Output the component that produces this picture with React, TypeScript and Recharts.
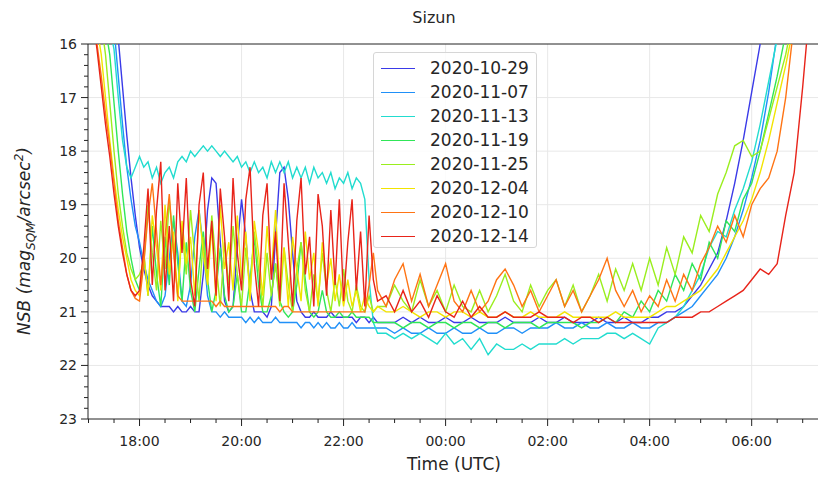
import { LineChart, Line, XAxis, YAxis, ReferenceLine } from 'recharts';

// sample times (UTC): 5 min steps in the evening, 10 min steps afterwards
const eveningTimes = [
  '17:00', '17:05', '17:10', '17:15', '17:20', '17:25', '17:30', '17:35', '17:40', '17:45', '17:50', '17:55',
  '18:00', '18:05', '18:10', '18:15', '18:20', '18:25', '18:30', '18:35', '18:40', '18:45', '18:50', '18:55',
  '19:00', '19:05', '19:10', '19:15', '19:20', '19:25', '19:30', '19:35', '19:40', '19:45', '19:50', '19:55',
  '20:00', '20:05', '20:10', '20:15', '20:20', '20:25', '20:30', '20:35', '20:40', '20:45', '20:50', '20:55',
  '21:00', '21:05', '21:10', '21:15', '21:20', '21:25', '21:30', '21:35', '21:40', '21:45', '21:50', '21:55',
  '22:00', '22:05', '22:10', '22:15', '22:20', '22:25', '22:30', '22:35', '22:40',
];
const nightTimes = [
  '22:50',
  '23:00', '23:10', '23:20', '23:30', '23:40', '23:50',
  '00:00', '00:10', '00:20', '00:30', '00:40', '00:50',
  '01:00', '01:10', '01:20', '01:30', '01:40', '01:50',
  '02:00', '02:10', '02:20', '02:30', '02:40', '02:50',
  '03:00', '03:10', '03:20', '03:30', '03:40', '03:50',
  '04:00', '04:10', '04:20', '04:30', '04:40', '04:50',
  '05:00', '05:10', '05:20', '05:30', '05:40', '05:50',
  '06:00', '06:10', '06:20', '06:30', '06:40', '06:50',
  '07:00', '07:10',
];
const times = [...eveningTimes, ...nightTimes];

const dates = ['2020-10-29', '2020-11-07', '2020-11-13', '2020-11-19', '2020-11-25', '2020-12-04', '2020-12-10', '2020-12-14'];
const colors = ['#3a3ae8', '#2090f8', '#22dccf', '#30e658', '#9aee1e', '#f2e400', '#ff7414', '#e8241a'];

// NSB values (mag/arcsec^2), evening part then night part
const nsb1029 = [
  13.0, 13.4, 13.8, 14.2, 14.6, 15.0, 15.4, 15.9, 16.8, 17.7, 18.5, 19.2, 19.8,
  20.2, 20.5, 20.7, 20.8, 20.9, 20.9, 20.9, 21.0, 20.9, 21.0, 21.0, 20.9, 21.0, 21.0,
  20.3, 19.1, 18.5, 18.6, 19.7, 20.8, 21.0,
  20.9, 19.8, 18.9, 19.6, 20.6, 21.0, 21.0, 21.0, 21.1,
  20.9, 19.6, 18.4, 18.3, 18.9, 19.9, 20.8, 21.0,
  21.1, 21.1, 21.0, 21.1, 21.1, 21.1, 21.0, 21.1, 21.1, 21.1, 21.1, 21.1, 21.2, 21.1, 21.1, 21.2, 21.1, 21.2,
  21.2, 21.2, 21.1, 21.2, 21.1, 21.2, 21.2, 21.1, 21.2, 21.2,
  21.1, 21.2, 21.2, 21.2, 21.1, 21.2, 21.2, 21.2, 21.1, 21.2,
  21.2, 21.1, 21.2, 21.2, 21.2, 21.1, 21.2, 21.2, 21.1, 21.2,
  21.2, 21.1, 21.1, 21.0, 21.0, 20.9, 20.7, 20.5, 20.2, 19.9,
  19.3, 18.6, 17.8, 16.9, 16.0, 15.1, 14.3, 13.6, 13.0, 12.5, 12.0,
];
const nsb1107 = [
  13.2, 13.6, 14.0, 14.4, 14.8, 15.3, 15.7, 16.6, 17.5, 18.3, 18.9, 19.4, 19.7,
  20.1, 20.4, 20.6, 20.8, 20.9, 20.7,
  20.0, 19.3, 19.9, 20.8, 20.9, 20.5, 19.6, 19.1, 19.8, 20.7,
  21.0, 21.0, 21.1, 21.0, 21.1, 21.1, 21.1, 21.1, 21.2, 21.1,
  21.2, 21.1, 21.2, 21.2, 21.2, 21.1, 21.2, 21.2, 21.2, 21.2,
  21.2, 21.3, 21.2, 21.2, 21.3, 21.2, 21.3, 21.2, 21.3, 21.3,
  21.2, 21.3, 21.3, 21.2, 21.3, 21.3, 21.3, 21.3, 21.3, 21.3,
  21.3, 21.4, 21.3, 21.4, 21.4, 21.3, 21.4, 21.4, 21.3, 21.4,
  21.4, 21.3, 21.4, 21.4, 21.3, 21.3, 21.4, 21.3, 21.3, 21.3,
  21.2, 21.3, 21.3, 21.2, 21.3, 21.3, 21.2, 21.3, 21.3, 21.2,
  21.3, 21.3, 21.2, 21.2, 21.1, 21.0, 20.9, 20.7, 20.5, 20.3,
  20.0, 19.6, 19.1, 18.5, 17.8, 16.9, 15.8, 14.8, 14.0, 13.3, 12.8,
];
const nsb1113 = [
  13.5, 13.9, 14.3, 14.8, 15.2, 15.7, 16.1, 17.0, 17.8, 18.3, 18.5, 18.3,
  18.1, 18.3, 18.2, 18.5, 18.3, 18.6, 18.4, 18.3, 18.5, 18.2, 18.1, 18.2,
  18.0, 18.1, 18.0, 17.9, 18.0, 17.9, 18.0, 18.1, 18.0, 18.1, 18.2, 18.1,
  18.3, 18.2, 18.4, 18.2, 18.4, 18.3, 18.5, 18.2, 18.4, 18.2, 18.4, 18.2,
  18.5, 18.3, 18.5, 18.3, 18.6, 18.3, 18.5, 18.4, 18.6, 18.4, 18.7, 18.5,
  18.6, 18.4, 18.7, 18.5, 18.6, 18.9, 20.4, 21.2, 21.4,
  21.4, 21.5, 21.4, 21.5, 21.4, 21.5, 21.6, 21.4, 21.6, 21.5,
  21.7, 21.5, 21.8, 21.6, 21.7, 21.7, 21.6, 21.7, 21.6, 21.6,
  21.6, 21.5, 21.6, 21.5, 21.5, 21.5, 21.4, 21.4, 21.5, 21.4,
  21.5, 21.6, 21.3, 21.2, 21.1, 20.9, 20.6, 20.3, 19.8, 19.5,
  19.6, 19.1, 18.7, 18.2, 17.5, 16.7, 15.9, 15.0, 14.2, 13.5, 13.0,
];
const nsb1119 = [
  13.8, 14.3, 14.8, 15.3, 15.7, 16.2, 17.1, 18.0, 18.8, 19.5, 20.0, 20.4, 20.6,
  19.9, 20.7, 19.4, 20.3, 20.9, 19.6, 20.5, 19.2, 20.1, 20.8, 19.7, 20.6,
  21.0, 20.2, 19.5, 20.4, 21.0, 20.6, 19.8, 20.7, 21.0, 20.9, 20.3, 21.0,
  21.0, 20.4, 19.6, 20.5, 21.0, 21.0, 20.7, 20.1, 20.8, 21.0, 21.1, 21.0,
  20.5, 19.7, 20.4, 21.0, 21.1, 21.0, 20.6, 21.0, 21.1, 21.1, 21.0, 21.1,
  21.1, 21.0, 21.1, 21.1, 21.1, 21.1, 21.2, 21.2,
  21.2, 21.2, 21.3, 21.2, 21.2, 21.3, 21.2, 21.2, 21.3, 21.2,
  21.2, 21.3, 21.2, 21.2, 21.3, 21.2, 21.2, 21.2, 21.3, 21.2,
  21.2, 21.2, 21.2, 21.3, 21.2, 21.2, 21.1, 21.2, 21.0, 21.1,
  20.8, 21.0, 20.6, 20.8, 20.3, 20.6, 20.1, 20.4, 19.7, 20.0,
  19.3, 19.5, 18.9, 18.6, 18.0, 17.3, 16.6, 15.8, 15.0, 14.3, 13.7,
];
const nsb1125 = [
  14.2, 14.7, 15.2, 15.6, 16.2, 17.1, 18.0, 18.8, 19.4, 19.9, 20.2, 20.4, 20.3,
  20.1, 19.0, 19.9, 20.6, 19.3, 20.2, 18.9, 19.8, 20.7, 19.5, 20.3, 19.1,
  20.0, 20.8, 19.6, 20.4, 19.2, 20.1, 20.9, 19.7, 20.5, 19.4, 20.3, 20.9,
  19.8, 20.6, 19.5, 20.2, 20.9, 19.9, 20.7, 20.1, 20.9, 19.8, 20.5, 21.0,
  20.2, 19.7, 20.6, 21.0, 20.3, 20.8, 19.9, 20.6, 21.0, 20.4, 20.9, 20.2,
  20.8, 21.0, 20.5, 20.9, 21.0, 20.7, 21.0, 20.9,
  20.9, 20.5, 20.8, 21.0, 20.4, 20.9, 20.6, 21.0, 20.5, 20.9,
  21.0, 20.6, 21.0, 20.7, 20.3, 20.8, 21.0, 20.5, 20.9, 20.6,
  20.4, 20.9, 20.5, 21.0, 20.7, 20.3, 20.8, 20.2, 20.6, 20.1,
  20.6, 20.0, 20.5, 19.8, 20.3, 19.6, 19.9, 19.2, 19.5, 18.8,
  18.4, 17.9, 17.8, 18.1, 18.0, 17.4, 16.8, 16.2, 15.4, 14.6, 14.0,
];
const nsb1204 = [
  14.6, 15.2, 15.7, 16.2, 17.0, 17.8, 18.5, 19.1, 19.6, 20.0, 20.4, 20.6, 20.7,
  19.9, 20.7, 19.2, 19.8, 20.6, 19.0, 20.3, 19.5, 20.8, 19.3, 20.1, 19.6,
  20.7, 19.1, 19.9, 20.5, 19.4, 20.8, 19.0, 20.2, 19.7, 20.6, 19.2, 20.4,
  19.5, 20.8, 19.3, 19.9, 20.7, 19.4, 20.3, 19.1, 20.6, 19.8, 20.9, 19.6,
  20.2, 20.8, 19.5, 20.4, 19.9, 20.9, 19.7, 20.5, 20.0, 20.8, 20.3, 20.9,
  20.4, 20.9, 20.6, 21.0, 20.7, 20.9, 21.0, 20.9,
  21.0, 21.0, 20.9, 21.0, 21.1, 21.0, 21.0, 21.1, 21.0, 21.0,
  21.1, 21.0, 21.1, 21.1, 21.0, 21.1, 21.1, 21.0, 21.1, 21.1,
  21.1, 21.0, 21.1, 21.1, 21.1, 21.1, 21.1, 21.0, 21.1, 21.1,
  21.1, 21.1, 21.0, 20.9, 20.9, 20.8, 20.7, 20.6, 20.4, 20.2,
  19.9, 19.6, 19.3, 18.9, 18.4, 17.8, 17.1, 16.4, 15.6, 14.8, 14.2,
];
const nsb1210 = [
  14.8, 15.4, 16.0, 16.6, 17.3, 17.9, 18.6, 19.3, 19.8, 20.3, 20.6, 20.75, 20.8,
  20.1, 19.2, 18.6, 19.5, 20.5, 19.6, 18.8, 19.9, 20.7, 20.8,
  20.8, 20.8, 20.8, 20.8, 20.8, 20.8, 20.8, 20.9, 20.8, 20.9, 20.9, 20.9,
  20.9, 20.9, 20.9, 20.9, 20.9, 20.9, 20.9, 20.9, 20.9, 20.9, 21.0, 20.9,
  20.9, 21.0, 21.0, 21.0, 21.0, 21.0, 21.0, 21.0, 21.0, 21.0, 21.0, 21.0,
  21.0, 21.0, 21.0, 21.0, 21.0, 21.0, 21.0, 20.5, 19.9,
  20.6, 20.9, 20.4, 20.1, 20.8, 20.3, 20.9, 20.5, 20.1, 20.8,
  21.0, 20.6, 21.0, 20.8, 20.4, 20.2, 20.5, 20.9, 20.6, 21.0,
  20.7, 20.4, 20.9, 20.6, 21.0, 20.7, 20.4, 20.0, 20.6, 20.9,
  20.6, 21.0, 20.7, 20.9, 20.4, 20.8, 20.3, 20.6, 20.1, 19.8,
  19.4, 19.7, 19.2, 19.6, 19.0, 18.7, 18.5, 18.0, 17.0, 15.6, 14.5,
];
const nsb1214 = [
  14.9, 15.5, 16.1, 16.8, 17.5, 18.1, 18.8, 19.4, 19.9, 20.3, 20.6, 20.7, 20.6,
  19.8, 18.7, 20.5, 19.1, 18.2, 20.6, 19.4, 20.8, 18.6, 19.9, 18.5, 20.4,
  20.9, 19.0, 18.4, 20.2, 19.3, 20.7, 18.7, 19.6, 20.8, 18.5, 19.9, 20.6,
  18.9, 18.3, 20.1, 20.9, 19.2, 18.6, 20.4, 19.5, 20.8, 18.6, 19.7, 20.9,
  19.3, 18.5, 20.3, 19.6, 20.9, 18.8, 19.4, 20.7, 19.1, 20.5, 18.9, 20.8,
  19.7, 18.9, 20.6, 19.5, 20.9, 19.2, 20.4, 20.8,
  20.7, 21.0, 20.6, 21.0, 20.8, 21.1, 20.7, 21.0, 21.1, 20.8,
  21.1, 20.9, 21.1, 21.1, 21.0, 21.1, 21.1, 21.1, 21.0, 21.1,
  21.1, 21.1, 21.2, 21.1, 21.1, 21.2, 21.1, 21.2, 21.2, 21.2,
  21.2, 21.2, 21.2, 21.2, 21.1, 21.1, 21.1, 21.0, 21.0, 20.9,
  20.8, 20.7, 20.6, 20.4, 20.2, 20.3, 20.1, 19.2, 18.4, 16.8, 15.0,
];
const seriesValues = [nsb1029, nsb1107, nsb1113, nsb1119, nsb1125, nsb1204, nsb1210, nsb1214];

const yTicks = [
  16, 16.2, 16.4, 16.6, 16.8, 17, 17.2, 17.4, 17.6, 17.8, 18, 18.2, 18.4, 18.6, 18.8,
  19, 19.2, 19.4, 19.6, 19.8, 20, 20.2, 20.4, 20.6, 20.8, 21, 21.2, 21.4, 21.6, 21.8,
  22, 22.2, 22.4, 22.6, 22.8, 23,
];
const yGrid = [17, 18, 19, 20, 21, 22];
const xTicks = [
  17, 17.5, 18, 18.5, 19, 19.5, 20, 20.5, 21, 21.5, 22, 22.5, 23, 23.5, 24, 24.5,
  25, 25.5, 26, 26.5, 27, 27.5, 28, 28.5, 29, 29.5, 30, 30.5, 31,
];
const xMajorTicks = [18, 20, 22, 24, 26, 28, 30];
const xMajorLabels = ['18:00', '20:00', '22:00', '00:00', '02:00', '04:00', '06:00'];

const toHours = (s: string) => {
  const [h, m] = s.split(':').map(Number);
  return (h < 12 ? h + 24 : h) + m / 60;
};

const data = times.map((t, i) => {
  const row: Record<string, number> = { t: toHours(t) };
  dates.forEach((d, k) => {
    row[d] = seriesValues[k][i];
  });
  return row;
});

const FONT = '"DejaVu Sans", sans-serif';
const INK = '#262626';

const YTick = (props: any) => {
  const { x, y, payload } = props;
  const v = payload.value;
  const major = Math.abs(v - Math.round(v)) < 1e-6;
  const len = major ? 7 : 4;
  return (
    <g>
      <line x1={x - len} x2={x} y1={y} y2={y} stroke="#222" strokeWidth={1} />
      {major && (
        <text x={x - 11} y={y + 5} textAnchor="end" fontSize={14} fill={INK} fontFamily={FONT}>
          {v}
        </text>
      )}
    </g>
  );
};

const XTick = (props: any) => {
  const { x, y, payload } = props;
  const idx = xMajorTicks.indexOf(payload.value);
  const len = idx >= 0 ? 7 : 4;
  return (
    <g>
      <line x1={x} x2={x} y1={y} y2={y + len} stroke="#222" strokeWidth={1} />
      {idx >= 0 && (
        <text x={x} y={y + 27} textAnchor="middle" fontSize={14} fill={INK} fontFamily={FONT}>
          {xMajorLabels[idx]}
        </text>
      )}
    </g>
  );
};

export default function App() {
  return (
    <div style={{ position: 'absolute', left: 0, top: 0, width: 818, height: 480, background: '#fff', fontFamily: FONT }}>
      <LineChart width={818} height={480} data={data} margin={{ top: 44, right: 0, bottom: 0, left: 0 }}>
        <XAxis
          dataKey="t"
          type="number"
          domain={[16.99, 31.3]}
          allowDataOverflow
          ticks={xTicks}
          interval={0}
          tick={<XTick />}
          tickLine={false}
          tickSize={0}
          tickMargin={0}
          height={61}
          axisLine={{ stroke: '#222' }}
        />
        <YAxis
          type="number"
          domain={[16, 23]}
          reversed
          allowDataOverflow
          ticks={yTicks}
          interval={0}
          tick={<YTick />}
          tickLine={false}
          tickSize={0}
          tickMargin={0}
          width={88}
          axisLine={{ stroke: '#222' }}
        />
        {xMajorTicks.map((v) => (
          <ReferenceLine key={'gx' + v} x={v} stroke="#e8e8e8" strokeWidth={1} />
        ))}
        {yGrid.map((v) => (
          <ReferenceLine key={'gy' + v} y={v} stroke="#e8e8e8" strokeWidth={1} />
        ))}
        <ReferenceLine y={16} stroke="#222" strokeWidth={1} />
        {dates.map((d, k) => (
          <Line
            key={d}
            dataKey={d}
            type="linear"
            stroke={colors[k]}
            strokeWidth={1.4}
            dot={false}
            activeDot={false}
            isAnimationActive={false}
          />
        ))}
      </LineChart>

      <div style={{ position: 'absolute', left: 334, width: 200, top: 8, textAlign: 'center', fontSize: 16, color: INK }}>
        Sizun
      </div>
      <div style={{ position: 'absolute', left: 354, width: 200, top: 454, textAlign: 'center', fontSize: 17, color: INK }}>
        Time (UTC)
      </div>
      <div
        style={{
          position: 'absolute',
          left: 25,
          top: 241,
          transform: 'translate(-50%, -50%) rotate(-90deg)',
          whiteSpace: 'nowrap',
          fontSize: 17,
          fontStyle: 'italic',
          color: INK,
        }}
      >
        NSB (mag<sub style={{ fontSize: 12 }}>SQM</sub>/arcsec<sup style={{ fontSize: 12 }}>2</sup>)
      </div>

      <div
        style={{
          position: 'absolute',
          left: 373,
          top: 52,
          width: 164,
          height: 196,
          boxSizing: 'border-box',
          background: 'rgba(255,255,255,0.85)',
          border: '1px solid #d6d6d6',
          borderRadius: 3,
        }}
      >
        {dates.map((d, k) => (
          <div key={d} style={{ position: 'absolute', left: 0, top: 3 + k * 24, height: 24, width: 164 }}>
            <div style={{ position: 'absolute', left: 7, top: 12, width: 34, height: 1.4, background: colors[k] }} />
            <div style={{ position: 'absolute', left: 56, top: 1, fontSize: 17, lineHeight: '22px', color: INK }}>{d}</div>
          </div>
        ))}
      </div>
    </div>
  );
}
